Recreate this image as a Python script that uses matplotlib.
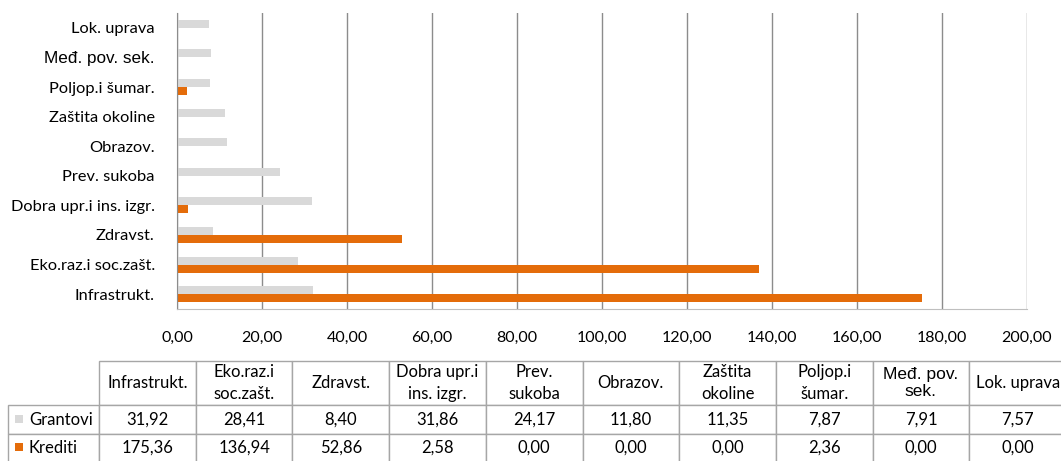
import matplotlib.pyplot as plt
import matplotlib.patches as mpatches

# Data
categories = ['Infrastrukt.', 'Eko.raz.i soc.zašt.', 'Zdravst.', 'Dobra upr.i ins. izgr.',
              'Prev. sukoba', 'Obrazov.', 'Zaštita okoline', 'Poljop.i šumar.',
              'Međ. pov. sek.', 'Lok. uprava']
table_headers = ['Infrastrukt.', 'Eko.raz.i\nsoc.zašt.', 'Zdravst.', 'Dobra upr.i\nins. izgr.',
                 'Prev.\nsukoba', 'Obrazov.', 'Zaštita\nokoline', 'Poljop.i\nšumar.',
                 'Međ. pov.\nsek.', 'Lok. uprava']
grantovi = [31.92, 28.41, 8.40, 31.86, 24.17, 11.80, 11.35, 7.87, 7.91, 7.57]
krediti = [175.36, 136.94, 52.86, 2.58, 0.00, 0.00, 0.00, 2.36, 0.00, 0.00]
series_names = ['Grantovi', 'Krediti']
xticks = [0, 20, 40, 60, 80, 100, 120, 140, 160, 180, 200]

c_gray = '#d9d9d9'
c_orange = '#e46c0a'
c_grid = '#8c8c8c'
c_table = '#a6a6a6'

plt.rcParams['font.family'] = ['Lato', 'DejaVu Sans']

W, H = 1061, 461
fig = plt.figure(figsize=(W / 100, H / 100), dpi=100)

# bar chart
ax = fig.add_axes([177 / W, (H - 309) / H, (1027 - 177) / W, (309 - 13) / H])
y = list(range(len(categories)))
bh = 0.27
ax.barh([v + bh / 2 for v in y], grantovi, height=bh, color=c_gray, zorder=2)
ax.barh([v - bh / 2 for v in y], krediti, height=bh, color=c_orange, zorder=2)
ax.set_xlim(0, 200)
ax.set_ylim(-0.5, len(categories) - 0.5)
ax.set_xticks(xticks)
ax.set_xticklabels([('%.2f' % t).replace('.', ',') for t in xticks], fontsize=11.5)
ax.set_yticks(y)
ax.set_yticklabels(categories, fontsize=11.8)
for lbl in ax.get_yticklabels():
    if lbl.get_text().startswith('Međ'):
        lbl.set_family(['Liberation Sans', 'DejaVu Sans'])
        lbl.set_fontsize(12.3)
ax.tick_params(axis='both', length=0, colors='#000000')
ax.tick_params(axis='x', pad=16)
ax.tick_params(axis='y', pad=16)
ax.xaxis.grid(True, color=c_grid, linewidth=1, zorder=0)
for s in ['top', 'right']:
    ax.spines[s].set_visible(False)
ax.spines['left'].set_color(c_grid)
ax.spines['bottom'].set_color('#bfbfbf')

# data table
tax = fig.add_axes([8 / W, -1 / H, (1066 - 8) / W, 101 / H])
tax.axis('off')
cell_text = [[''] + table_headers,
             [series_names[0]] + [('%.2f' % v).replace('.', ',') for v in grantovi],
             [series_names[1]] + [('%.2f' % v).replace('.', ',') for v in krediti]]
col_w = [91] + [96.7] * len(categories)
tw = sum(col_w)
tbl = tax.table(cellText=cell_text, colWidths=[w / tw for w in col_w],
                cellLoc='center', bbox=[0, 0, 1, 1])
tbl.auto_set_font_size(False)
tbl.set_fontsize(12)
row_h = [44, 28, 28]
for (r, c), cell in tbl.get_celld().items():
    cell.set_height(row_h[r] / 100)
    cell.set_edgecolor(c_table)
    cell.set_linewidth(1)
    if r == 0:
        cell.get_text().set_linespacing(1.45)
    if r == 0 and c == 0:
        cell.visible_edges = 'BR'
        cell.set_edgecolor('none')
    if r > 0 and c == 0:
        cell.get_text().set_horizontalalignment('left')
        cell.PAD = 0.23
    if r == 0 and cell.get_text().get_text().startswith('Međ'):
        cell.get_text().set_family(['Liberation Sans', 'DejaVu Sans'])
        cell.get_text().set_fontsize(12.5)
        cell.get_text().set_linespacing(1.2)

# legend keys in the row labels
for i, col in enumerate([c_gray, c_orange]):
    yc = [419, 447][i]
    fig.patches.append(mpatches.Rectangle((15 / W, (H - yc - 4) / H), 8 / W, 8 / H,
                                          transform=fig.transFigure, facecolor=col,
                                          edgecolor='none'))

fig.savefig('out.png', dpi=100)
